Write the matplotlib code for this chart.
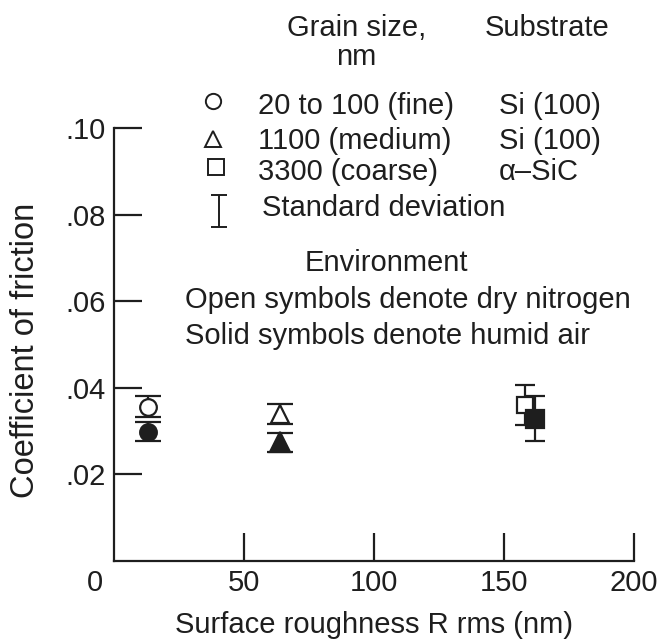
import matplotlib
matplotlib.use("Agg")
import matplotlib.pyplot as plt

plt.rcParams['font.family'] = ['Liberation Sans', 'DejaVu Sans']
ink = '#1e1e1e'

# Data
roughness_circle = [13]
roughness_triangle = [64]
roughness_square_open = [158]
roughness_square_solid = [162]

# dry nitrogen (open symbols)
mu_circle_open = [0.0356]
sd_circle_open = [0.0024]
mu_triangle_open = [0.0339]
sd_triangle_open = [0.0023]
mu_square_open = [0.0360]
sd_square_open = [0.0046]

# humid air (solid symbols)
mu_circle_solid = [0.0299]
sd_circle_solid = [0.0021]
mu_triangle_solid = [0.0274]
sd_triangle_solid = [0.0022]
mu_square_solid = [0.0329]
sd_square_solid = [0.0051]

yticks = [0.02, 0.04, 0.06, 0.08, 0.10]
yticklabels = ['.02', '.04', '.06', '.08', '.10']
xticks = [50, 100, 150, 200]

fig = plt.figure(figsize=(6.57, 6.4), dpi=100)
ax = fig.add_axes([114/657, 1 - 561/640, 520/657, 433/640])

def pts(x, y, e, marker, ms, face, cap):
    ax.errorbar(x, y, yerr=e, fmt=marker, ms=ms, mfc=face, mec=ink, mew=1.6,
                ecolor=ink, elinewidth=1.6, capsize=cap, capthick=1.6, clip_on=False)

pts(roughness_circle, mu_circle_open, sd_circle_open, 'o', 12, 'white', 9.5)
pts(roughness_circle, mu_circle_solid, sd_circle_solid, 'o', 12, ink, 9.5)
pts(roughness_triangle, mu_triangle_open, sd_triangle_open, '^', 13, 'white', 9.5)
pts(roughness_triangle, mu_triangle_solid, sd_triangle_solid, '^', 14, ink, 9.5)
pts(roughness_square_open, mu_square_open, sd_square_open, 's', 12, 'white', 7)
pts(roughness_square_solid, mu_square_solid, sd_square_solid, 's', 13, ink, 7)

ax.set_xlim(0, 200)
ax.set_ylim(0, 0.10)
ax.set_xticks(xticks)
ax.set_xticklabels([str(v) for v in xticks])
ax.set_yticks(yticks)
ax.set_yticklabels(yticklabels)
for s in ['top', 'right']:
    ax.spines[s].set_visible(False)
for s in ['left', 'bottom']:
    ax.spines[s].set_linewidth(1.6)
    ax.spines[s].set_color(ink)
ax.tick_params(direction='in', length=20, width=1.6, color=ink, labelsize=21,
               labelcolor=ink, pad=6)
ax.annotate('0', xy=(0, 0), xytext=(-14, -6), textcoords='offset points',
            ha='center', va='top', fontsize=21, color=ink)
ax.set_xlabel('Surface roughness R rms (nm)', fontsize=21, color=ink, labelpad=10)

# key drawn in pixel coordinates over the whole figure
key = fig.add_axes([0, 0, 1, 1], facecolor='none')
key.set_xlim(0, 657)
key.set_ylim(640, 0)
key.axis('off')

def label(x, y, s, ha='left'):
    key.text(x, y, s, fontsize=21, color=ink, ha=ha, va='center')

key.text(26, 350, 'Coefficient of friction', fontsize=23.5, color=ink,
         rotation=90, ha='center', va='center')

label(287, 28, 'Grain size,')
label(356, 57, 'nm', ha='center')
label(485, 28, 'Substrate')
label(258, 106, '20 to 100 (fine)')
label(258, 141, '1100 (medium)')
label(258, 172, '3300 (coarse)')
label(499, 106, 'Si (100)')
label(499, 141, 'Si (100)')
label(499, 172, '\u03b1\u2013SiC')
label(262, 208, 'Standard deviation')
label(386, 263, 'Environment', ha='center')
label(185, 300, 'Open symbols denote dry nitrogen')
label(185, 336, 'Solid symbols denote humid air')

key.plot([213], [101], 'o', ms=11, mfc='white', mec=ink, mew=1.4)
key.plot([213], [139], '^', ms=12, mfc='white', mec=ink, mew=1.4)
key.plot([216], [167], 's', ms=11, mfc='white', mec=ink, mew=1.4)
key.errorbar([219], [211], yerr=[16], fmt='none', ecolor=ink, elinewidth=1.4,
             capsize=6, capthick=1.4)

fig.savefig('out.png', dpi=100, facecolor='white')
